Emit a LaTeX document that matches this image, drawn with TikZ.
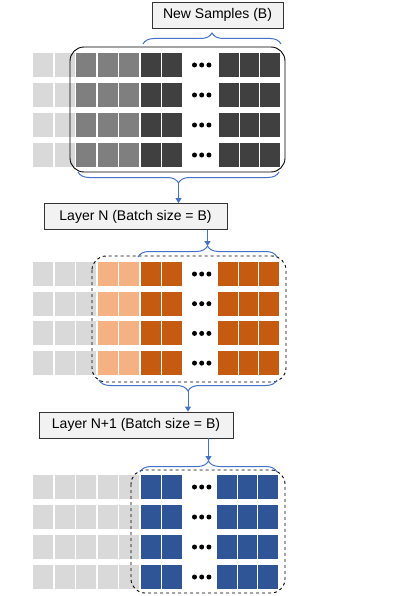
\documentclass[tikz,border=0pt]{standalone}
\usepackage{fontspec}
\setmainfont{Liberation Sans}
\usetikzlibrary{decorations.pathreplacing,arrows.meta}
\definecolor{cellLight}{HTML}{D9D9D9}
\definecolor{cellMid}{HTML}{7F7F7F}
\definecolor{cellDark}{HTML}{404040}
\definecolor{peach}{HTML}{F4B183}
\definecolor{rust}{HTML}{C55A11}
\definecolor{navy}{HTML}{2F5597}
\definecolor{braceblue}{HTML}{4472C4}
\definecolor{boxfill}{HTML}{F2F2F2}
\begin{document}
\begin{tikzpicture}[x=1pt,y=-1pt]
                    \tikzset{
                        titlebox/.style={draw=black!80, fill=boxfill, line width=0.9pt, minimum height=26, inner sep=0, font=\fontsize{14}{16}\selectfont},
                        frame/.style={draw=black, line width=0.9pt, rounded corners=14pt},
                        brc/.style={draw=braceblue, line width=1pt, decorate, decoration={brace, amplitude=11pt}},
                        arr/.style={draw=braceblue, line width=1pt, -{Triangle[length=5pt,width=6pt]}}
                    }
                    \useasboundingbox (0,0) rectangle (415,596);
                    \fill[white] (0,0) rectangle (415,596);

                    % block 1: new samples
                    \foreach \r in {0,...,3}{
                        \foreach \c/\col in {0/cellLight,1/cellLight,2/cellMid,3/cellMid,4/cellMid,5/cellDark,6/cellDark}
                            \fill[\col] (33+21.5*\c, 53+30*\r) rectangle ++(20,24);
                        \foreach \c in {0,1,2}
                            \fill[cellDark] (219+20.5*\c, 53+30*\r) rectangle ++(19.5,24);
                        \foreach \d in {0,1,2}
                            \fill (194.5+7.2*\d, 65+30*\r) circle (2.5pt);
                    }
                    \draw[frame] (70,47) rectangle (285,172);

                    % block 2: layer N
                    \foreach \r in {0,...,3}{
                        \foreach \c/\col in {0/cellLight,1/cellLight,2/cellLight,3/peach,4/peach,5/rust,6/rust}
                            \fill[\col] (33+21.5*\c, 262+29.7*\r) rectangle ++(20,24);
                        \foreach \c in {0,1,2}
                            \fill[rust] (218+20.5*\c, 262+29.7*\r) rectangle ++(19.5,24);
                        \foreach \d in {0,1,2}
                            \fill (194.5+7.2*\d, 274+29.7*\r) circle (2.5pt);
                    }
                    \draw[frame, dashed] (92,256) rectangle (286,382);

                    % block 3: layer N+1
                    \foreach \r in {0,...,3}{
                        \foreach \c/\col in {0/cellLight,1/cellLight,2/cellLight,3/cellLight,4/cellLight,5/navy,6/navy}
                            \fill[\col] (33+21.5*\c, 475+30*\r) rectangle ++(20,24);
                        \foreach \c in {0,1,2}
                            \fill[navy] (217+20.5*\c, 475+30*\r) rectangle ++(19.5,24);
                        \foreach \d in {0,1,2}
                            \fill (194.5+7.2*\d, 487+30*\r) circle (2.5pt);
                    }
                    \draw[frame, dashed] (131,470) rectangle (285,593);

                    \draw node[titlebox, minimum width=131] (ns) at (217.5,15) {New Samples (B)};
                    \draw node[titlebox, minimum width=183] (ln) at (135.5,216.5) {Layer N (Batch size = B)};
                    \draw node[titlebox, minimum width=194] (lnn) at (136,425) {Layer N+1 (Batch size = B)};

                    \coordinate (b1) at (178.5,183);
                    \coordinate (t2) at (207.5,246);
                    \coordinate (b2) at (188,391);
                    \coordinate (t3) at (208.5,461);

                    \draw[brc] (143,44) -- (281,44);
                    \draw[brc] (279,172) -- (78,172);
                    \draw[brc] (138,257) -- (277,257);
                    \draw[brc] (277,380) -- (99,380);
                    \draw[brc] (140,472) -- (277,472);

                    \draw[arr] (b1) -- (b1 |- ln.north);
                    \draw[arr] (t2 |- ln.south) -- (t2);
                    \draw[arr] (b2) -- (b2 |- lnn.north);
                    \draw[arr] (t3 |- lnn.south) -- (t3);
                \end{tikzpicture}
\end{document}
